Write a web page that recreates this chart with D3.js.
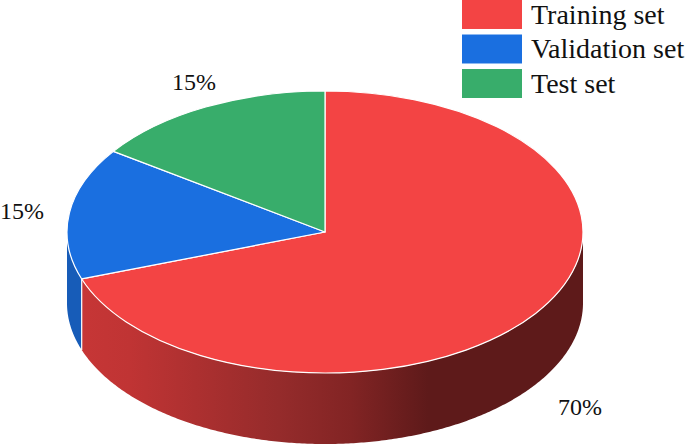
<!DOCTYPE html>
<html><head><meta charset="utf-8">
<script src="https://cdn.jsdelivr.net/npm/d3@7/dist/d3.min.js"></script>
<style>html,body{margin:0;padding:0;background:#fff}svg{display:block}</style></head>
<body><svg id="c" width="685" height="444"></svg>
<script>
const categories = ["Training set","Validation set","Test set"];
const shares = [69.6, 15.1, 15.3];
const pctLabels = ["70%","15%","15%"];
const colors = ["#f34444","#1a6fe0","#38ad6b"];
const sideColors = ["#c03434","#175cb8","#2e8f58"];
const svg = d3.select("#c");
const cx=325, cy=232, rx=258, ry=141, depth=71;
const font="'Liberation Serif','Times New Roman',serif";
const pie = d3.pie().sort(null).value(d=>d)(shares);
const defs = svg.append("defs");
const grad = defs.append("linearGradient").attr("id","redSide").attr("gradientUnits","userSpaceOnUse")
  .attr("x1",cx-rx).attr("x2",cx+rx).attr("y1",0).attr("y2",0);
[[0.03,"#c63636"],[0.12,"#c03434"],[0.41,"#952b2b"],[0.55,"#822424"],[0.70,"#5e1a1a"],[1,"#5e1a1a"]]
  .forEach(([o,c])=>grad.append("stop").attr("offset",o).attr("stop-color",c));
const px=t=>cx+rx*Math.sin(t), py=t=>cy-ry*Math.cos(t);
const wall=d3.area().x(px).y0(py).y1(t=>py(t)+depth);
const visible=(s)=>{const a=Math.max(s.startAngle,Math.PI/2),b=Math.min(s.endAngle,1.5*Math.PI);return a<b?d3.range(a,b,0.01).concat([b]):null};
pie.forEach((s,i)=>{const pts=visible(s); if(pts) svg.append("path").attr("d",wall(pts))
  .attr("fill",i===0?"url(#redSide)":sideColors[i]);});
const seam=pie[0].endAngle;
svg.append("line").attr("x1",px(seam)).attr("x2",px(seam)).attr("y1",py(seam)).attr("y2",py(seam)+depth)
  .attr("stroke","#fff").attr("stroke-width",1.2);
const arc=d3.arc().innerRadius(0).outerRadius(1);
svg.selectAll(".top").data(pie).join("path").attr("class","top")
  .attr("d",arc).attr("transform",`translate(${cx},${cy}) scale(${rx},${ry})`)
  .attr("fill",(d,i)=>colors[i]).attr("stroke","#fff").attr("stroke-width",1.2)
  .attr("vector-effect","non-scaling-stroke").attr("stroke-linejoin","round");
const legendY=d3.scaleBand().domain(categories).range([0,98]).paddingInner(0.16);
const lg=svg.append("g");
categories.forEach((c,i)=>{
  lg.append("rect").attr("x",462).attr("y",legendY(c)).attr("width",60).attr("height",legendY.bandwidth()).attr("fill",colors[i]);
  lg.append("text").attr("x",531).attr("y",legendY(c)+23.5).text(c)
    .attr("font-family",font).attr("font-size",28).attr("fill","#111");
});
const labelPos=[[558,415],[0,219],[172,90]];
pctLabels.forEach((t,i)=>svg.append("text").attr("x",labelPos[i][0]).attr("y",labelPos[i][1]).text(t)
  .attr("font-family",font).attr("font-size",24).attr("fill","#111"));
</script></body></html>
